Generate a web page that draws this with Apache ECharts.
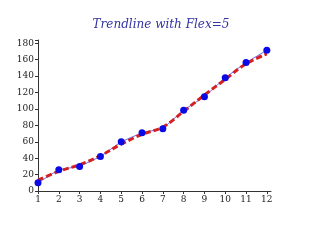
<!DOCTYPE html>
<html><head><meta charset="utf-8">
<script src="https://cdn.jsdelivr.net/npm/echarts@6/dist/echarts.min.js"></script>
<style>html,body{margin:0;padding:0;background:#fff}#c{width:322px;height:241px}</style>
</head><body><div id="c"></div>
<script>
var categories = [1,2,3,4,5,6,7,8,9,10,11,12];
var dataValues = [10,26,30,42,60,71,76,98.5,115,138,156.5,171.5];
var trendValues = [13,24,32,43,57,69,78,97,117,136,155,167];
var yTicks = [0,20,40,60,80,100,120,140,160,180];

var chart = echarts.init(document.getElementById('c'));
var font = '"DejaVu Serif", "Liberation Serif", serif';
var pts = categories.map(function(c,i){return [c,dataValues[i]];});
chart.setOption({
  animation:false,
  title:{text:'Trendline with Flex=5',left:'center',top:14,
    textStyle:{fontFamily:font,fontStyle:'italic',fontWeight:'normal',fontSize:12,color:'#3333a0'}},
  grid:{left:38,right:51,top:40,bottom:50},
  xAxis:{type:'value',min:1,max:12.2,interval:1,
    axisLine:{lineStyle:{color:'#333',width:1}},
    axisTick:{show:true,length:3,lineStyle:{color:'#333'}},
    axisLabel:{fontFamily:font,fontSize:9,color:'#222',margin:4,showMaxLabel:false,
      formatter:function(v){return categories.indexOf(v)>=0?String(v):'';}},
    splitLine:{show:false}},
  yAxis:{type:'value',min:0,max:184,interval:20,
    axisLine:{show:true,lineStyle:{color:'#333',width:1}},
    axisTick:{show:true,length:3,lineStyle:{color:'#333'}},
    axisLabel:{fontFamily:font,fontSize:9,color:'#222',margin:4,
      formatter:function(v){return yTicks.indexOf(v)>=0?String(v):'';}},
    splitLine:{show:false}},
  series:[
    {type:'line',data:pts,symbol:'none',lineStyle:{color:'#6a6af0',width:1},z:1},
    {type:'line',data:categories.map(function(c,i){return [c,trendValues[i]];}),
      smooth:0.4,symbol:'none',lineStyle:{color:'#d42020',width:3,type:[6,3]},z:2},
    {type:'scatter',data:pts,symbol:'circle',symbolSize:7,itemStyle:{color:'#0a0ae6',opacity:1},z:3}
  ]
});
</script></body></html>
